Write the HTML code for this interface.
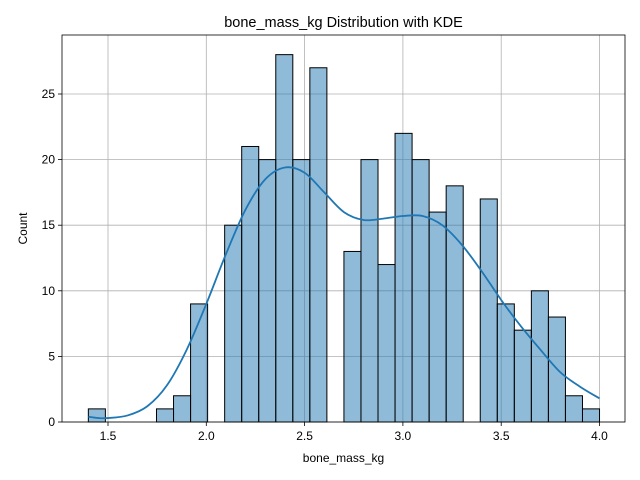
<!DOCTYPE html>
<html><head><meta charset="utf-8"><style>body{margin:0;background:#fff}svg{display:block;font-family:"Liberation Sans",sans-serif}</style></head>
<body>
<svg id="c" width="640" height="480"></svg>
<script>
const binStart = 1.4;
const binWidth = 0.08667;
const counts = [1,0,0,0,1,2,9,0,15,21,20,28,20,27,0,13,20,12,22,20,16,18,0,17,9,7,10,8,2,1];
const kdeX = [1.4,1.45,1.5,1.6,1.7,1.8,1.9,2.0,2.1,2.2,2.3,2.4,2.5,2.6,2.7,2.8,2.9,3.0,3.1,3.2,3.3,3.4,3.5,3.6,3.7,3.8,3.9,4.0];
const kdeY = [0.4,0.3,0.3,0.5,1.2,2.8,5.5,9,12.8,16.2,18.5,19.4,19,17.5,16,15.4,15.5,15.7,15.7,15,13.5,11.5,9.3,7.3,5.5,3.8,2.7,1.8];
const xTicks = [1.5,2.0,2.5,3.0,3.5,4.0];
const yTicks = [0,5,10,15,20,25];
const L=62,R=625,T=35,B=422;
const X=v=>108+(v-1.5)*196.6;
const Y=v=>422-v*13.12;
const s=document.getElementById('c');
const NS='http://www.w3.org/2000/svg';
function mk(t,a,p){const e=document.createElementNS(NS,t);for(const k in a)e.setAttribute(k,a[k]);(p||s).appendChild(e);return e;}
xTicks.forEach(v=>{
 const g=mk('line',{x1:X(v),x2:X(v),y1:T,y2:B,stroke:'#b0b0b0','stroke-width':0.8});
 
 mk('line',{x1:X(v),x2:X(v),y1:B,y2:B+4,stroke:'#000','stroke-width':0.8});
 const t=mk('text',{x:X(v),y:B+18,'text-anchor':'middle','font-size':12});t.textContent=v.toFixed(1);
 
});
yTicks.forEach(v=>{
 const g=mk('line',{x1:L,x2:R,y1:Y(v),y2:Y(v),stroke:'#b0b0b0','stroke-width':0.8});
 
 mk('line',{x1:L-4,x2:L,y1:Y(v),y2:Y(v),stroke:'#000','stroke-width':0.8});
 const t=mk('text',{x:L-7,y:Y(v)+4,'text-anchor':'end','font-size':12});t.textContent=v;
 
});
counts.forEach((c,i)=>{
 if(!c)return;
 const x0=X(binStart+i*binWidth),x1=X(binStart+(i+1)*binWidth);
 const r=mk('rect',{x:x0,y:Y(c),width:x1-x0,height:Y(0)-Y(c),fill:'#1f77b4','fill-opacity':0.5,stroke:'#000','stroke-width':1});
 
});
const pts=kdeX.map((v,i)=>[X(v),Y(kdeY[i])]);
let d='M'+pts[0][0]+','+pts[0][1];
for(let i=0;i<pts.length-1;i++){
 const p0=pts[Math.max(0,i-1)],p1=pts[i],p2=pts[i+1],p3=pts[Math.min(pts.length-1,i+2)];
 const c1=[p1[0]+(p2[0]-p0[0])/6,p1[1]+(p2[1]-p0[1])/6];
 const c2=[p2[0]-(p3[0]-p1[0])/6,p2[1]-(p3[1]-p1[1])/6];
 d+='C'+c1[0]+','+c1[1]+' '+c2[0]+','+c2[1]+' '+p2[0]+','+p2[1];
}
const p=mk('path',{d:d,fill:'none',stroke:'#1f77b4','stroke-width':1.8});

const f=mk('rect',{x:L,y:T,width:R-L,height:B-T,fill:'none',stroke:'#000','stroke-width':0.8});

let t=mk('text',{x:(L+R)/2,y:27,'text-anchor':'middle','font-size':14.5});t.textContent='bone_mass_kg Distribution with KDE';

t=mk('text',{x:(L+R)/2,y:462,'text-anchor':'middle','font-size':12});t.textContent='bone_mass_kg';

t=mk('text',{x:27,y:(T+B)/2,'text-anchor':'middle','font-size':12,transform:'rotate(-90 27 '+(T+B)/2+')'});t.textContent='Count';

</script>
</body></html>
